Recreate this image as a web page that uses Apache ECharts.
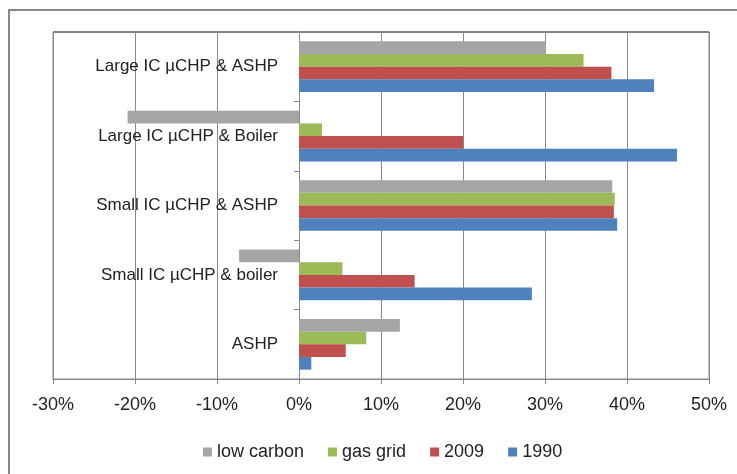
<!DOCTYPE html>
<html>
<head>
<meta charset="utf-8">
<script src="https://cdn.jsdelivr.net/npm/echarts@6/dist/echarts.min.js"></script>
<style>html,body{margin:0;padding:0;background:#fff}#c{width:737px;height:474px}</style>
</head>
<body>
<div id="c"></div>
<script>
const categories = ['ASHP', 'Small IC \u00b5CHP & boiler', 'Small IC \u00b5CHP & ASHP', 'Large IC \u00b5CHP & Boiler', 'Large IC \u00b5CHP & ASHP'];
const v1990 = [1.5, 28.4, 38.8, 46.1, 43.3];
const v2009 = [5.7, 14.1, 38.4, 20.0, 38.1];
const vGasGrid = [8.2, 5.3, 38.5, 2.8, 34.7];
const vLowCarbon = [12.3, -7.3, 38.2, -20.9, 30.1];
const xTicks = {min: -30, max: 50, interval: 10};

const font = "'Liberation Sans', Arial, sans-serif";
const chart = echarts.init(document.getElementById('c'));
function s(name, data, color) {
  return {name: name, type: 'bar', data: data, itemStyle: {color: color},
    barGap: '0%', barCategoryGap: '27%', animation: false};
}
chart.setOption({
  animation: false,
  grid: {left: 53, right: 28, top: 32, bottom: 95, show: true, borderColor: '#888', borderWidth: 1,
    containLabel: false, outerBoundsMode: 'none'},
  legend: {
    data: ['low carbon', 'gas grid', '2009', '1990'],
    top: 438, left: 198, icon: 'rect', itemWidth: 9, itemHeight: 9, itemGap: 24,
    textStyle: {fontFamily: font, fontSize: 18, color: '#222'}
  },
  xAxis: {
    type: 'value', min: xTicks.min, max: xTicks.max, interval: xTicks.interval,
    axisLabel: {formatter: '{value}%', fontFamily: font, fontSize: 18, color: '#222', margin: 17},
    axisLine: {show: true, lineStyle: {color: '#888'}},
    axisTick: {show: true, length: 5, lineStyle: {color: '#888'}},
    splitLine: {show: true, lineStyle: {color: '#888', width: 1}}
  },
  yAxis: {
    type: 'category', data: categories,
    axisLine: {show: true, onZero: true, lineStyle: {color: '#888'}},
    axisTick: {show: true, length: 5, lineStyle: {color: '#888'}},
    axisLabel: {fontFamily: font, fontSize: 17, color: '#222', margin: -225}
  },
  series: [
    s('low carbon', vLowCarbon, '#A5A5A5'),
    s('gas grid', vGasGrid, '#9BBB59'),
    s('2009', v2009, '#C0504D'),
    s('1990', v1990, '#4F81BD')
  ],
  graphic: [
    {type: 'rect', shape: {x: 9, y: 10, width: 800, height: 500}, style: {fill: 'none', stroke: '#878787', lineWidth: 2}, silent: true},
    {type: 'line', shape: {x1: 53, y1: 32, x2: 709, y2: 32}, style: {stroke: '#404040', lineWidth: 1}, silent: true}
  ]
});
</script>
</body>
</html>
